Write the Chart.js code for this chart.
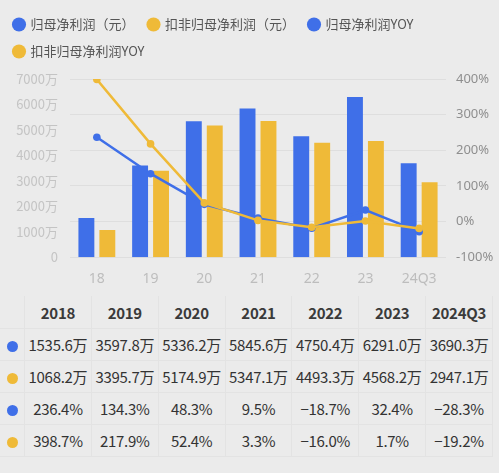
<!DOCTYPE html>
<html>
<head>
<meta charset="utf-8">
<script src="https://cdn.jsdelivr.net/npm/chart.js@4.4.1/dist/chart.umd.min.js"></script>
<style>
  html, body { margin: 0; padding: 0; background: #ebebeb; }
  body { width: 499px; height: 473px; overflow: hidden; font-family: "Noto Sans CJK SC", "Noto Sans", sans-serif; }
  .wrap { position: relative; width: 499px; height: 292px; }
  table { border-collapse: collapse; margin-top: 4px; table-layout: fixed; width: 493px; color: #333; }
  td, th { border: 1px solid #e3e3e3; text-align: center; padding: 0; height: 31px; font-size: 15px; white-space: nowrap; letter-spacing: -0.3px; }
  th { font-weight: 600; border-top-color: #ebebeb; color: #3a3a3a; }
  td.dot { width: 23px; border-left-color: #ebebeb; }
  .dot span { display: inline-block; width: 11px; height: 11px; border-radius: 50%; vertical-align: middle; }
</style>
</head>
<body>
<div class="wrap"><canvas class="my-chart"></canvas></div>
<table class="tbl"></table>
<script>
const axisLabels = ["18", "19", "20", "21", "22", "23", "24Q3"];
const years = ["2018", "2019", "2020", "2021", "2022", "2023", "2024Q3"];
const netProfit = [1535.6, 3597.8, 5336.2, 5845.6, 4750.4, 6291.0, 3690.3];
const deductedProfit = [1068.2, 3395.7, 5174.9, 5347.1, 4493.3, 4568.2, 2947.1];
const netYoy = [236.4, 134.3, 48.3, 9.5, -18.7, 32.4, -28.3];
const deductedYoy = [398.7, 217.9, 52.4, 3.3, -16.0, 1.7, -19.2];

const blue = '#3f6fe8';
const yellow = '#efba38';

// table under the chart
const tbl = document.querySelector('.tbl');
let html = '<tr><th style="width:23px;border-left-color:#ebebeb"></th>' + years.map(y => '<th>' + y + '</th>').join('') + '</tr>';
const rows = [
    [blue, netProfit.map(v => v.toFixed(1) + '万')],
    [yellow, deductedProfit.map(v => v.toFixed(1) + '万')],
    [blue, netYoy.map(v => v.toFixed(1) + '%')],
    [yellow, deductedYoy.map(v => v.toFixed(1) + '%')],
];
rows.forEach(r => {
    html += '<tr><td class="dot"><span style="background:' + r[0] + '"></span></td>' +
        r[1].map(t => '<td>' + t.replace('-', '−') + '</td>').join('') + '</tr>';
});
tbl.innerHTML = html;

// extra room under the legend
const legendGap = {
    id: 'legendGap',
    beforeInit(chart) {
        const fit = chart.legend.fit;
        chart.legend.fit = function () {
            fit.bind(chart.legend)();
            this.height += 11;
        };
    }
};

const myChart = document.querySelector(".my-chart");

new Chart(myChart, {
    data: {
        labels: axisLabels,
        datasets: [
            { type: 'bar', label: '归母净利润（元）', data: netProfit, backgroundColor: blue, yAxisID: 'y', order: 3 },
            { type: 'bar', label: '扣非归母净利润（元）', data: deductedProfit, backgroundColor: yellow, yAxisID: 'y', order: 3 },
            { type: 'line', label: '归母净利润YOY', data: netYoy, borderColor: blue, backgroundColor: blue, yAxisID: 'y1', order: 1,
              borderWidth: 2.5, pointRadius: 3.8, pointBorderWidth: 0 },
            { type: 'line', label: '扣非归母净利润YOY', data: deductedYoy, borderColor: yellow, backgroundColor: yellow, yAxisID: 'y1', order: 0,
              borderWidth: 2.5, pointRadius: 3.8, pointBorderWidth: 0 },
        ]
    },
    plugins: [legendGap],
    options: {
        responsive: true,
        maintainAspectRatio: false,
        animation: false,
        datasets: { bar: { categoryPercentage: 0.78, barPercentage: 0.76 } },
        layout: { padding: { left: 0, right: 0, top: 4, bottom: 0 } },
        plugins: {
            legend: {
                align: 'start',
                labels: {
                    usePointStyle: true,
                    pointStyle: 'circle',
                    boxWidth: 10,
                    boxHeight: 10,
                    padding: 14,
                    color: '#555',
                    font: { size: 13, family: '"Noto Sans CJK SC"' },
                    sort: (a, b) => a.datasetIndex - b.datasetIndex
                }
            },
            tooltip: { enabled: false }
        },
        scales: {
            x: {
                grid: { display: false },
                border: { display: false },
                ticks: { color: '#bdbdbd', font: { size: 14, family: '"Noto Sans"' }, padding: 5 }
            },
            y: {
                position: 'left',
                min: 0, max: 7000,
                afterFit: s => { s.width = 70; },
                ticks: { stepSize: 1000, color: '#c4c4c4', font: { size: 13, family: '"Noto Sans CJK SC"' }, padding: 4,
                         callback: v => v === 0 ? '0' : v + '万' },
                grid: { display: false },
                border: { display: false }
            },
            y1: {
                position: 'right',
                min: -100, max: 400,
                afterFit: s => { s.width = 53; },
                ticks: { stepSize: 100, color: '#8f8f8f', font: { size: 13, family: '"Noto Sans"' }, padding: 2,
                         callback: v => v + '%' },
                grid: { color: '#dedede', lineWidth: 1, drawTicks: true, tickColor: 'rgba(0,0,0,0)' },
                border: { display: false }
            }
        }
    }
});
</script>
</body>
</html>
